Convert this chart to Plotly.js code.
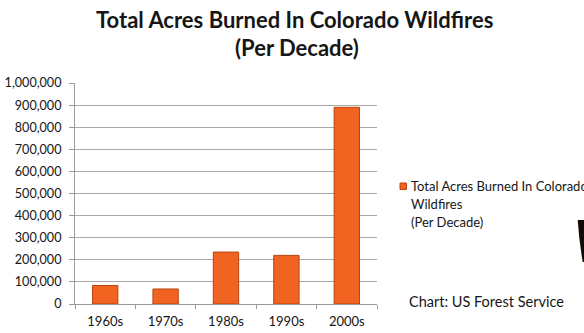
<!DOCTYPE html>
<html>
<head>
<meta charset="utf-8">
<script src="https://cdn.plot.ly/plotly-3.0.1.min.js"></script>
<style>html,body{margin:0;padding:0;background:#fff;}#chart{width:584px;height:333px;}</style>
</head>
<body>
<div id="chart"></div>
<script>
const categories = ['1960s', '1970s', '1980s', '1990s', '2000s'];
const acresBurned = [84000, 68000, 235000, 220000, 890000];
const yTickValues = [0, 100000, 200000, 300000, 400000, 500000, 600000, 700000, 800000, 900000, 1000000];
const seriesName = 'Total Acres Burned In Colorado Wildfires (Per Decade)';
const legendLines = ['Total Acres Burned In Colorado', 'Wildfires', '(Per Decade)'];
const titleLines = ['Total Acres Burned In Colorado Wildfires', '(Per Decade)'];
const sourceText = 'Chart: US Forest Service';

const W = 584, H = 333;
const M = {l: 75, r: 207, t: 83, b: 29};
const pw = W - M.l - M.r, ph = H - M.t - M.b;
const px = x => (x - M.l) / pw;
const py = y => (H - M.b - y) / ph;

const FONT = 'Lato, "Open Sans", sans-serif';
const orange = '#F06320';
const textColor = '#161616';

const trace = {
  type: 'bar', x: categories, y: acresBurned, name: seriesName, width: 0.42,
  marker: {color: orange, line: {color: '#B9440F', width: 1}}, hoverinfo: 'x+y'
};

function note(text, x, y, size, anchor) {
  return {text: text, x: px(x), y: py(y), xref: 'paper', yref: 'paper', xanchor: anchor || 'left', yanchor: 'middle',
          showarrow: false, borderpad: 0, font: {family: FONT, size: size, color: textColor}};
}

const annotations = [
  note('<b>' + titleLines[0] + '</b>', 294, 19.5, 22, 'center'),
  note('<b>' + titleLines[1] + '</b>', 297, 48, 22, 'center'),
  note(legendLines[0], 410, 186, 13),
  note(legendLines[1], 410, 203.5, 13),
  note(legendLines[2], 410, 222, 13),
  note(sourceText, 408, 301.5, 14.5)
];

const shapes = [
  {type: 'rect', xref: 'paper', yref: 'paper', x0: px(400), x1: px(406.5), y0: py(189.5), y1: py(183), fillcolor: orange, line: {color: '#B9440F', width: 1}},
  {type: 'path', xref: 'paper', yref: 'paper',
   path: 'M ' + px(577.7) + ' ' + py(220) + ' L ' + px(584) + ' ' + py(220) + ' L ' + px(584) + ' ' + py(262) + ' L ' + px(582.7) + ' ' + py(262) + ' Q ' + px(579) + ' ' + py(240) + ' ' + px(577.7) + ' ' + py(220) + ' Z',
   fillcolor: '#120a06', line: {width: 0}}
];

const layout = {
  width: W, height: H, margin: M,
  paper_bgcolor: '#fff', plot_bgcolor: '#fff', showlegend: false,
  font: {family: FONT, size: 13, color: textColor},
  xaxis: {type: 'category', showline: true, linecolor: '#9a9a9a', linewidth: 1,
    ticks: 'outside', tickson: 'boundaries', ticklen: 4, tickcolor: '#9a9a9a', ticklabelstandoff: 5,
    showgrid: false, tickfont: {family: FONT, size: 13, color: textColor}, fixedrange: true},
  yaxis: {range: [0, 1000000], tickvals: yTickValues, tickformat: ',d',
    showline: true, linecolor: '#9a9a9a', linewidth: 1, ticks: 'outside', ticklen: 5, tickcolor: '#9a9a9a',
    ticklabelstandoff: 5, showgrid: true, gridcolor: '#a8a8a8', gridwidth: 1, zeroline: false,
    tickfont: {family: FONT, size: 12.6, color: textColor}, fixedrange: true},
  annotations: annotations, shapes: shapes
};

Plotly.newPlot('chart', [trace], layout, {displayModeBar: false, staticPlot: true});
</script>
</body>
</html>
